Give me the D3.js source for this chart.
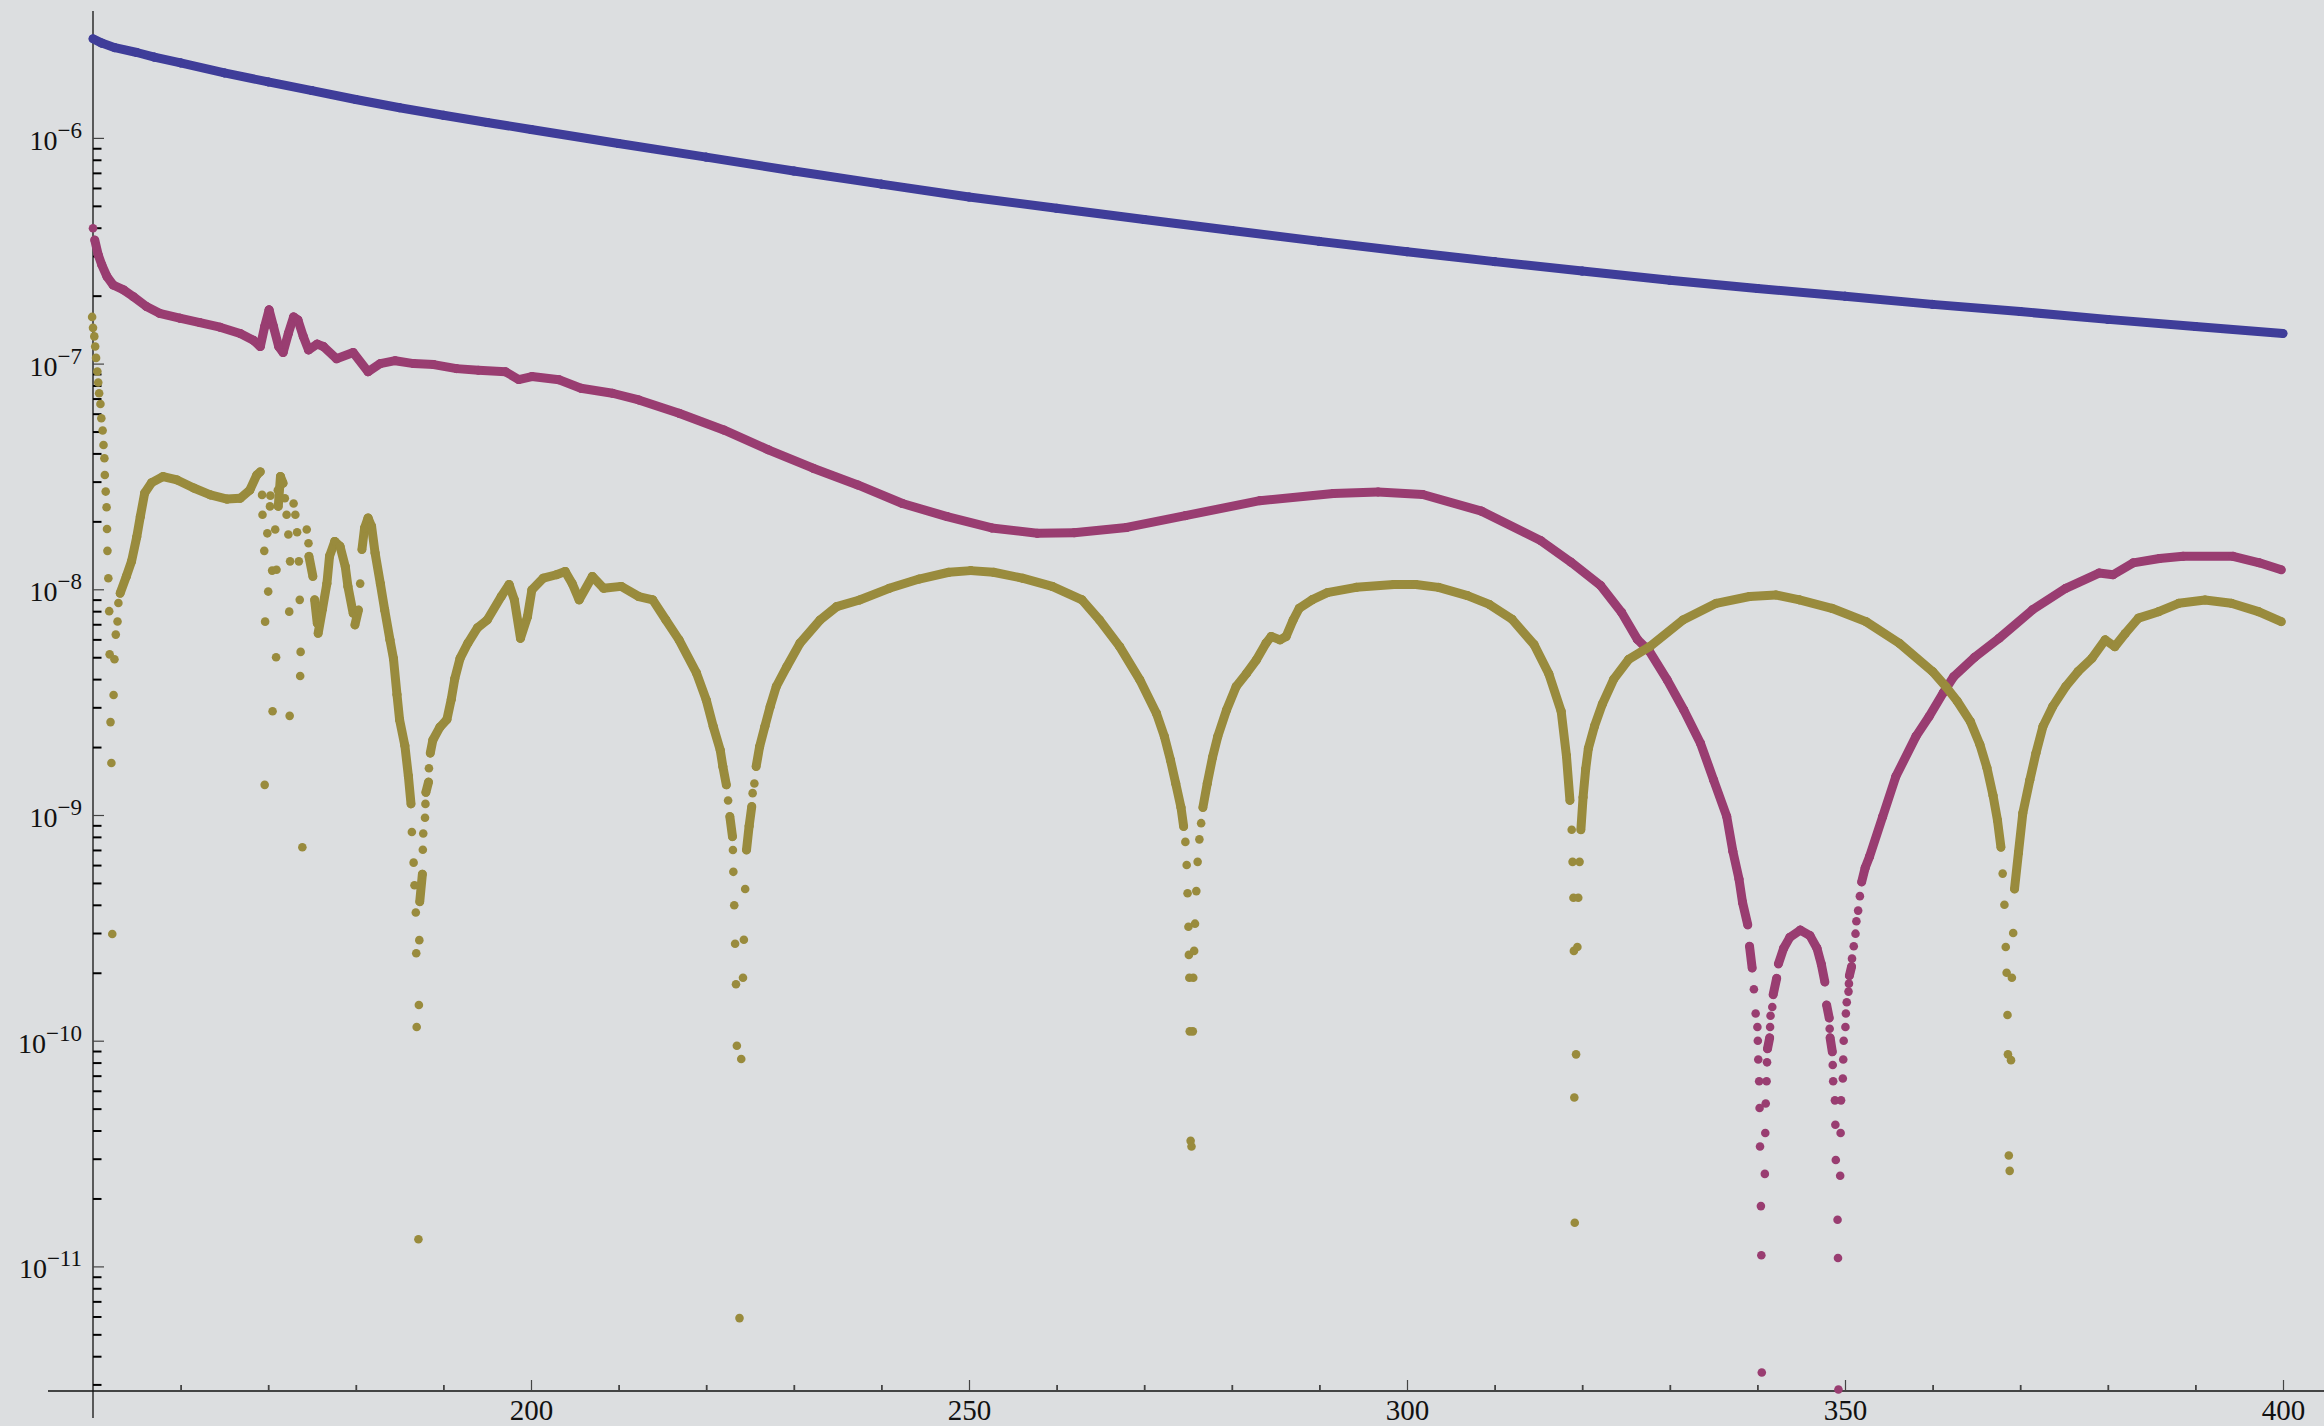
<!DOCTYPE html>
<html>
<head>
<meta charset="utf-8">
<script src="https://cdn.jsdelivr.net/npm/d3@7"></script>
<style>
  html, body { margin: 0; padding: 0; background: #dcdee0; }
  svg { display: block; }
</style>
</head>
<body>
<svg id="chart"></svg>
<script>
// values, [x, value]
const blue = [[150,2.75e-6],[151,2.63e-6],[152.5,2.51e-6],[155,2.39e-6],[157,2.28e-6],[160,2.15e-6],[165,1.94e-6],[170,1.77e-6],[175,1.62e-6],[180,1.48e-6],[185,1.36e-6],[190,1.26e-6],[195,1.17e-6],[200,1.09e-6],[210,9.44e-7],[220,8.22e-7],[230,7.13e-7],[240,6.24e-7],[250,5.47e-7],[260,4.88e-7],[270,4.35e-7],[280,3.89e-7],[290,3.48e-7],[300,3.13e-7],[310,2.83e-7],[320,2.57e-7],[330,2.34e-7],[340,2.15e-7],[350,1.99e-7],[360,1.83e-7],[370,1.70e-7],[380,1.57e-7],[390,1.46e-7],[400,1.36e-7]];

const magenta = [[150,3.98e-7],[150.2,3.53e-7],[150.6,3.03e-7],[151,2.74e-7],[151.6,2.43e-7],[152.3,2.23e-7],[153.5,2.12e-7],[154.6,1.98e-7],[156.1,1.79e-7],[157.6,1.67e-7],[159.9,1.59e-7],[162.2,1.52e-7],[164.5,1.45e-7],[166.8,1.36e-7],[168.3,1.27e-7],[169.1,1.19e-7],[169.6,1.46e-7],[170.1,1.73e-7],[170.6,1.46e-7],[171.2,1.19e-7],[171.7,1.12e-7],[172.3,1.36e-7],[172.9,1.61e-7],[173.4,1.56e-7],[174.0,1.32e-7],[174.6,1.15e-7],[175.6,1.22e-7],[176.3,1.19e-7],[177.8,1.05e-7],[179.7,1.12e-7],[181.4,9.2e-8],[182.8,1.0e-7],[184.5,1.03e-7],[186.6,1.0e-7],[188.9,9.9e-8],[191.5,9.5e-8],[194,9.35e-8],[197.1,9.2e-8],[198.6,8.5e-8],[200.1,8.76e-8],[203.2,8.48e-8],[205.7,7.78e-8],[209.3,7.39e-8],[212.3,6.9e-8],[216.9,6.03e-8],[222,5.08e-8],[227.1,4.15e-8],[232.2,3.44e-8],[237.3,2.9e-8],[242.4,2.4e-8],[247.5,2.1e-8],[252.6,1.87e-8],[257.8,1.77e-8],[262,1.78e-8],[268,1.88e-8],[274.7,2.12e-8],[283.2,2.47e-8],[291.6,2.66e-8],[296.7,2.7e-8],[301.8,2.63e-8],[308.5,2.22e-8],[315.3,1.64e-8],[318.7,1.32e-8],[322.1,1.04e-8],[324.5,7.9e-9],[326.3,6.0e-9],[327.7,5.3e-9],[329.7,3.97e-9],[331.6,2.92e-9],[333.5,2.08e-9],[335,1.43e-9],[336.5,9.84e-10],[337.2,6.9e-10],[337.9,5.2e-10],[338.3,4.1e-10],[338.9,3.26e-10],[339.1,2.62e-10],[339.4,2.1e-10],[339.6,1.69e-10],[339.8,1.32e-10],[340.0,1.15e-10],[340.05,1.0e-10],[340.1,8.26e-11],[340.2,6.61e-11],[340.25,5.03e-11],[340.3,3.4e-11],[340.4,1.85e-11],[340.45,1.12e-11],[340.5,3.39e-12],[340.85,2.57e-11],[340.9,3.9e-11],[340.95,5.27e-11],[341.05,6.61e-11],[341.1,8.02e-11],[341.15,9.21e-11],[341.4,1.03e-10],[341.45,1.15e-10],[341.5,1.29e-10],[341.7,1.41e-10],[341.8,1.6e-10],[342.2,1.89e-10],[342.4,2.19e-10],[343.0,2.57e-10],[343.7,2.87e-10],[344.9,3.09e-10],[346.0,2.92e-10],[346.8,2.57e-10],[347.3,2.18e-10],[347.7,1.82e-10],[347.9,1.44e-10],[348.2,1.26e-10],[348.25,1.13e-10],[348.3,1.03e-10],[348.55,8.93e-11],[348.6,7.81e-11],[348.65,6.61e-11],[348.85,5.44e-11],[348.9,4.24e-11],[348.95,2.96e-11],[349.15,1.61e-11],[349.2,1.09e-11],[349.25,2.85e-12],[349.45,2.52e-11],[349.5,3.9e-11],[349.55,5.44e-11],[349.75,6.8e-11],[349.8,8.26e-11],[349.85,1.0e-10],[350.05,1.15e-10],[350.1,1.32e-10],[350.2,1.48e-10],[350.4,1.65e-10],[350.45,1.79e-10],[350.5,1.94e-10],[350.75,2.13e-10],[350.8,2.31e-10],[351.0,2.62e-10],[351.2,2.98e-10],[351.3,3.38e-10],[351.5,3.77e-10],[351.7,4.37e-10],[351.9,5.05e-10],[352.3,5.83e-10],[352.8,6.54e-10],[354.3,9.84e-10],[355.8,1.48e-9],[358.1,2.23e-9],[359.6,2.73e-9],[361.2,3.47e-9],[362.4,4.1e-9],[364.8,5.0e-9],[367.6,6.07e-9],[371.4,8.11e-9],[375.2,1.01e-8],[379.0,1.18e-8],[380.6,1.16e-8],[382.9,1.31e-8],[385.9,1.37e-8],[388.6,1.40e-8],[394.3,1.40e-8],[397.3,1.31e-8],[399.8,1.22e-8]];

const gold = [[149.9,1.61e-7],[150.0,1.44e-7],[150.15,1.32e-7],[150.25,1.19e-7],[150.35,1.06e-7],[150.5,9.22e-8],[150.6,8.24e-8],[150.7,7.39e-8],[150.85,6.62e-8],[150.95,5.73e-8],[151.1,5.05e-8],[151.2,4.36e-8],[151.3,3.81e-8],[151.35,3.21e-8],[151.45,2.71e-8],[151.55,2.31e-8],[151.6,1.85e-8],[151.65,1.48e-8],[151.75,1.12e-8],[151.85,8.0e-9],[151.9,5.15e-9],[152.0,2.58e-9],[152.1,1.70e-9],[152.2,2.97e-10],
[152.35,3.4e-9],[152.45,4.9e-9],[152.6,6.3e-9],[152.8,7.2e-9],[152.9,8.7e-9],[153.1,9.6e-9],[153.8,1.14e-8],[154.4,1.33e-8],[155.0,1.71e-8],[155.4,2.10e-8],[155.9,2.67e-8],[156.7,2.97e-8],[158.0,3.16e-8],[159.6,3.05e-8],[161.5,2.81e-8],[163.4,2.62e-8],[165.3,2.51e-8],[166.8,2.53e-8],[167.9,2.75e-8],[168.7,3.21e-8],[169.1,3.32e-8],
[169.3,2.62e-8],[169.35,2.14e-8],[169.55,1.48e-8],[169.6,1.36e-9],[169.65,7.19e-9],[169.9,1.77e-8],[170.0,9.77e-9],[170.2,2.33e-8],[170.25,2.60e-8],[170.45,1.21e-8],[170.5,2.88e-9],[170.8,1.84e-8],[170.9,5.0e-9],[170.95,1.22e-8],[171.1,2.75e-8],[171.15,2.33e-8],[171.4,3.16e-8],[171.7,2.95e-8],[171.9,2.53e-8],[172.1,2.14e-8],[172.3,1.75e-8],[172.4,7.96e-9],[172.45,2.75e-9],[172.5,1.33e-8],[172.9,2.4e-8],[173.1,2.14e-8],[173.3,1.79e-8],[173.5,1.33e-8],[173.6,8.98e-9],[173.65,4.13e-9],[173.7,5.28e-9],[173.9,7.2e-10],[174.4,1.84e-8],[174.6,1.60e-8],[174.65,1.40e-8],[175.1,1.14e-8],[175.3,8.98e-9],[175.6,7.08e-9],[175.7,6.38e-9],
[176.2,8.2e-9],[176.7,1.06e-8],[177.0,1.40e-8],[177.6,1.63e-8],[178.2,1.55e-8],[178.8,1.26e-8],[179.1,1.03e-8],[179.7,7.83e-9],[179.9,6.95e-9],[180.3,8.10e-9],[180.5,1.06e-8],[180.7,1.50e-8],[181.0,1.87e-8],[181.4,2.07e-8],[181.8,1.90e-8],[182.2,1.45e-8],[182.8,1.06e-8],[183.3,8.10e-9],[183.9,5.97e-9],[184.3,4.93e-9],[184.7,3.42e-9],[185.0,2.64e-9],[185.6,2.03e-9],[186.0,1.49e-9],[186.3,1.12e-9],[186.4,8.41e-10],[186.6,6.15e-10],[186.7,4.88e-10],[186.85,3.70e-10],[186.9,2.44e-10],[186.95,1.15e-10],[187.15,1.32e-11],[187.2,1.44e-10],[187.25,2.79e-10],[187.3,4.13e-10],[187.6,5.47e-10],[187.65,7.02e-10],[187.7,8.28e-10],[187.9,9.73e-10],[187.95,1.12e-9],[188.0,1.26e-9],[188.3,1.40e-9],[188.35,1.61e-9],[188.5,1.88e-9],[188.8,2.15e-9],[189.6,2.45e-9],[190.4,2.65e-9],[190.9,3.26e-9],[191.3,4.02e-9],[191.9,4.94e-9],[192.8,5.78e-9],[193.9,6.76e-9],[195.0,7.31e-9],[196.6,9.29e-9],[197.5,1.05e-8],[198.1,8.98e-9],[198.8,6.07e-9],[199.6,7.57e-9],[200.1,9.94e-9],[201.4,1.12e-8],[202.9,1.16e-8],[203.9,1.20e-8],[204.7,1.06e-8],[205.5,8.98e-9],[207.0,1.14e-8],[208.3,1.01e-8],[210.3,1.03e-8],[212.3,9.29e-9],[213.9,8.98e-9],[215.4,7.31e-9],[216.9,5.97e-9],[218.9,4.25e-9],[220.0,3.24e-9],[220.8,2.47e-9],[221.6,1.94e-9],[221.9,1.64e-9],[222.3,1.36e-9],[222.5,1.16e-9],[222.7,9.84e-10],[223.0,8.02e-10],[223.05,7.0e-10],[223.1,5.6e-10],[223.2,3.98e-10],[223.3,2.69e-10],[223.4,1.78e-10],[223.5,9.5e-11],[223.8,5.9e-12],[224.0,8.3e-11],[224.2,1.9e-10],[224.3,2.8e-10],[224.45,4.7e-10],[224.6,7.0e-10],[224.9,8.93e-10],[225.2,1.09e-9],[225.3,1.25e-9],[225.5,1.38e-9],[225.7,1.64e-9],[226.1,2.01e-9],[226.7,2.47e-9],[227.3,3.02e-9],[228.0,3.71e-9],[229.2,4.54e-9],[230.7,5.77e-9],[233.0,7.31e-9],[234.9,8.38e-9],[237.5,8.97e-9],[240.9,1.01e-8],[244.3,1.11e-8],[247.7,1.19e-8],[250.2,1.21e-8],[252.8,1.19e-8],[256.1,1.12e-8],[259.5,1.03e-8],[262.9,8.98e-9],[264.9,7.31e-9],[267.2,5.57e-9],[269.5,3.97e-9],[271.4,2.82e-9],[272.3,2.23e-9],[273.0,1.75e-9],[273.6,1.38e-9],[274.2,1.08e-9],[274.5,8.9e-10],[274.7,7.6e-10],[274.85,6.0e-10],[274.95,4.5e-10],[275.05,3.2e-10],[275.1,2.4e-10],[275.15,1.9e-10],[275.2,1.1e-10],[275.3,3.6e-11],[275.4,3.4e-11],[275.55,1.1e-10],[275.6,1.9e-10],[275.7,2.5e-10],[275.8,3.3e-10],[275.95,4.6e-10],[276.1,6.2e-10],[276.3,7.8e-10],[276.5,9.2e-10],[276.7,1.08e-9],[277.2,1.38e-9],[277.8,1.80e-9],[278.4,2.23e-9],[279.4,2.92e-9],[280.5,3.71e-9],[281.7,4.25e-9],[282.8,4.86e-9],[283.9,5.77e-9],[284.5,6.18e-9],[285.5,5.97e-9],[286.2,6.18e-9],[287.0,7.31e-9],[287.7,8.24e-9],[289.2,9.0e-9],[290.9,9.66e-9],[294.2,1.02e-8],[298.5,1.05e-8],[301.0,1.05e-8],[303.6,1.02e-8],[306.9,9.38e-9],[309.4,8.57e-9],[312.0,7.36e-9],[314.5,5.69e-9],[316.2,4.21e-9],[317.6,2.88e-9],[318.2,1.83e-9],[318.6,1.16e-9],[318.8,8.6e-10],[318.9,6.2e-10],[319.0,4.3e-10],[319.05,2.5e-10],[319.1,5.6e-11],[319.15,1.56e-11],[319.3,8.7e-11],[319.45,2.6e-10],[319.55,4.3e-10],[319.7,6.2e-10],[319.85,8.6e-10],[320.1,1.2e-9],[320.4,1.6e-9],[320.7,1.97e-9],[321.4,2.47e-9],[322.3,3.1e-9],[323.6,4.0e-9],[325.3,4.89e-9],[327.7,5.57e-9],[331.5,7.31e-9],[335.3,8.67e-9],[339.1,9.29e-9],[342.1,9.44e-9],[344.8,8.98e-9],[348.5,8.24e-9],[352.4,7.19e-9],[356.2,5.77e-9],[360.0,4.32e-9],[361.5,3.71e-9],[362.8,3.2e-9],[364.3,2.6e-9],[365.4,2.05e-9],[366.2,1.62e-9],[366.9,1.22e-9],[367.4,9.5e-10],[367.8,7.2e-10],[368.0,5.5e-10],[368.2,4.0e-10],[368.35,2.6e-10],[368.45,2.0e-10],[368.55,1.3e-10],[368.6,8.7e-11],[368.7,3.1e-11],[368.8,2.65e-11],[368.95,8.2e-11],[369.05,1.9e-10],[369.2,3.0e-10],[369.35,4.7e-10],[369.8,6.8e-10],[370.3,1.02e-9],[371.1,1.43e-9],[371.8,1.88e-9],[372.6,2.47e-9],[373.7,3.02e-9],[375.2,3.71e-9],[376.6,4.32e-9],[378.2,4.95e-9],[379.7,5.97e-9],[380.8,5.57e-9],[382.0,6.38e-9],[383.5,7.45e-9],[385.8,7.96e-9],[388.1,8.67e-9],[391.1,8.97e-9],[394.1,8.67e-9],[397.2,7.96e-9],[399.8,7.19e-9]];

// tick labels
const xMajor = [200, 250, 300, 350, 400];
const yExponents = [-6, -7, -8, -9, -10, -11];

const width = 2324, height = 1426;
const margin = { top: 0, right: 41, bottom: 35, left: 93 };
const serif = '"Liberation Serif", "DejaVu Serif", serif';

const svg = d3.select("#chart")
    .attr("width", width)
    .attr("height", height);

svg.append("rect")
    .attr("width", width).attr("height", height)
    .attr("fill", "#dcdee0");

const x = d3.scaleLinear()
    .domain([150, 400])
    .range([margin.left, width - margin.right]);

const y = d3.scaleLog()
    .domain([2.805e-12, 4.083e-6])
    .range([height - margin.bottom, margin.top]);

const x0 = x(150), y0 = y(2.805e-12);

// axis lines (cross at the origin and run a little past it)
svg.append("line")
    .attr("x1", x0 - 45).attr("x2", width)
    .attr("y1", y0).attr("y2", y0)
    .attr("stroke", "#111").attr("stroke-width", 1.3);
svg.append("line")
    .attr("x1", x0).attr("x2", x0)
    .attr("y1", 11).attr("y2", y0 + 27)
    .attr("stroke", "#111").attr("stroke-width", 1.3);

// x ticks
const xMinor = d3.range(160, 400, 10).filter(v => !xMajor.includes(v));

svg.append("g")
    .attr("transform", `translate(0,${y0})`)
    .call(d3.axisBottom(x).tickValues(xMinor).tickSize(-6).tickFormat(""))
    .call(g => g.select(".domain").remove())
    .call(g => g.selectAll(".tick line").attr("stroke", "#444").attr("stroke-width", 1.8));

svg.append("g")
    .attr("transform", `translate(0,${y0})`)
    .call(d3.axisBottom(x).tickValues(xMajor).tickSize(-11).tickPadding(8).tickFormat(d3.format("d")))
    .call(g => g.select(".domain").remove())
    .call(g => g.selectAll(".tick line").attr("stroke", "#444").attr("stroke-width", 1.2))
    .call(g => g.selectAll(".tick text")
        .attr("font-family", serif).attr("font-size", 29).attr("fill", "#111"));

// y ticks: decades plus 2..9 in between
const yMinor = [];
for (let e = -12; e < -6; e++) {
    for (let m = 2; m <= 9; m++) {
        const v = m * Math.pow(10, e);
        if (v >= y.domain()[0]) yMinor.push(v);
    }
}

svg.append("g")
    .attr("transform", `translate(${x0},0)`)
    .call(d3.axisLeft(y).tickValues(yMinor).tickSize(-8.5).tickFormat(""))
    .call(g => g.select(".domain").remove())
    .call(g => g.selectAll(".tick line").attr("stroke", "#000").attr("stroke-width", 2));

svg.append("g")
    .attr("transform", `translate(${x0},0)`)
    .call(d3.axisLeft(y).tickValues(yExponents.map(e => Math.pow(10, e))).tickSize(-11).tickFormat(""))
    .call(g => g.select(".domain").remove())
    .call(g => g.selectAll(".tick line").attr("stroke", "#444").attr("stroke-width", 1.2));

const yLabels = svg.append("g").selectAll("text")
    .data(yExponents)
    .join("text")
      .attr("x", x0 - 11)
      .attr("y", d => y(Math.pow(10, d)) + 12)
      .attr("text-anchor", "end")
      .attr("font-family", serif)
      .attr("font-size", 28)
      .attr("fill", "#111");
yLabels.append("tspan").text("10");
yLabels.append("tspan")
    .attr("dy", -12)
    .attr("font-size", 23)
    .text(d => "\u2212" + Math.abs(d));

// points; neighbours that the dense sampling would run together are joined
function drawSeries(data, color) {
    const g = svg.append("g");
    const links = [];
    for (let i = 1; i < data.length; i++) {
        const dx = x(data[i][0]) - x(data[i - 1][0]);
        const dy = y(data[i][1]) - y(data[i - 1][1]);
        if (dx >= 2 && Math.abs(dy) < 50) links.push([data[i - 1], data[i]]);
    }
    g.selectAll("line")
        .data(links)
        .join("line")
          .attr("x1", d => x(d[0][0])).attr("y1", d => y(d[0][1]))
          .attr("x2", d => x(d[1][0])).attr("y2", d => y(d[1][1]))
          .attr("stroke", color)
          .attr("stroke-width", 9)
          .attr("stroke-linecap", "round");
    g.selectAll("circle")
        .data(data)
        .join("circle")
          .attr("cx", d => x(d[0]))
          .attr("cy", d => y(d[1]))
          .attr("r", 4.3)
          .attr("fill", color);
}

drawSeries(blue, "#3f3d99");
drawSeries(magenta, "#993d71");
drawSeries(gold, "#998b3d");
</script>
</body>
</html>
